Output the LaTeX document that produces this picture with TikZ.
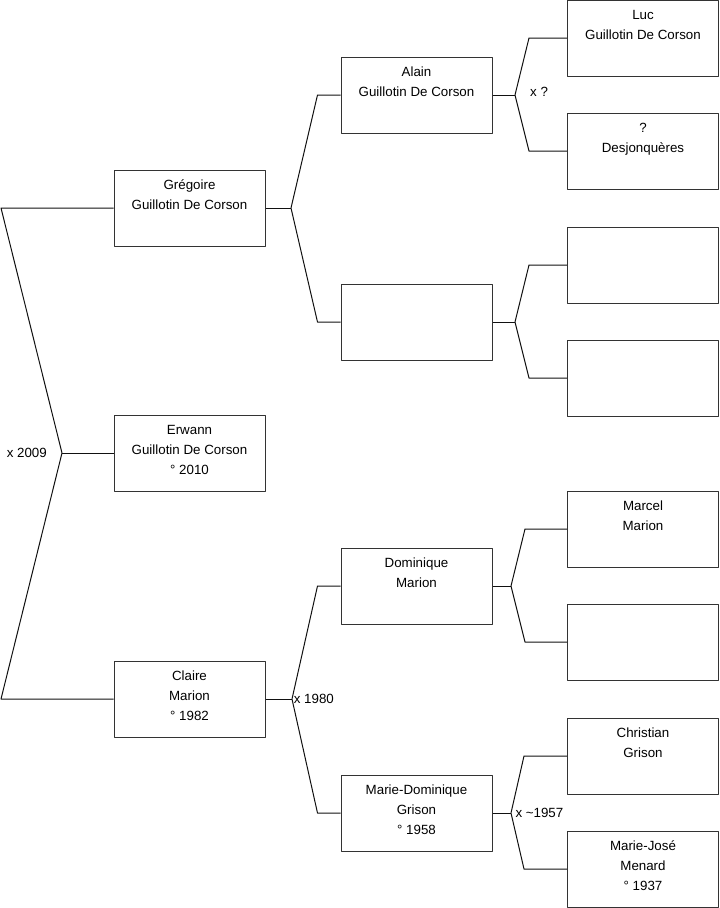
\documentclass[tikz,border=0pt]{standalone}
\usepackage{fontspec}
\setmainfont{Liberation Sans}
\usetikzlibrary{positioning, calc}
\definecolor{boxline}{HTML}{333333}
\definecolor{forkline}{HTML}{111111}

\begin{document}
\begin{tikzpicture}[
    x=0.75pt, y=-0.75pt,
    line width=0.75pt,
    line join=round,
    person/.style={draw=boxline, minimum width=113.25pt, minimum height=57pt,
        inner sep=0pt, align=center, font=\fontsize{10}{15}\selectfont,
        execute at begin node=\rule{0pt}{16.5pt}, execute at end node=\strut},
    union/.style={font=\fontsize{10}{12}\selectfont, inner sep=0pt}
]
    \useasboundingbox (0,0) rectangle (719,908);

    % Generation 1: the couple and their son
    \node[person] (greg) at (189.5,208) {Grégoire\\Guillotin De Corson\\{}};
    \node[person] (erwann) at (189.5,453) {Erwann\\Guillotin De Corson\\° 2010};
    \node[person] (claire) at (189.5,699) {Claire\\Marion\\° 1982};

    % Generation 2: parents
    \node[person] (alain) at (416.5,95) {Alain\\Guillotin De Corson\\{}};
    \node[person] (gmother) at (416.5,322) {};
    \node[person] (dominique) at (416.5,586) {Dominique\\Marion\\{}};
    \node[person] (mdom) at (416.5,813) {Marie-Dominique\\Grison\\° 1958};

    % Generation 3: grandparents
    \node[person] (luc) at (643,38) {Luc\\Guillotin De Corson\\{}};
    \node[person] (desj) at (643,151) {?\\Desjonquères\\{}};
    \node[person] (gmfather) at (643,265) {};
    \node[person] (gmmother) at (643,378) {};
    \node[person] (marcel) at (643,529) {Marcel\\Marion\\{}};
    \node[person] (dmother) at (643,642) {};
    \node[person] (christian) at (643,756) {Christian\\Grison\\{}};
    \node[person] (mjose) at (643,869) {Marie-José\\Menard\\° 1937};

    % Couple x 2009 with Erwann
    \coordinate (c0) at (62,453);
    \coordinate (c0t) at (1,208);
    \coordinate (c0b) at (1,699);
    \draw[forkline] (greg.west) -- (c0t) -- (c0) -- (c0b) -- (claire.west);
    \draw[forkline] (c0) -- (erwann.west);
    \node[union, left=11pt of c0] (u0) {x 2009};

    % Parents of Grégoire
    \coordinate (c1) at (291,208);
    \draw[forkline] (greg.east) -- (c1);
    \draw[forkline] (alain.west) -- ++(-23,0) -- (c1) -- ($(gmother.west)+(-23,0)$) -- (gmother.west);

    % Parents of Claire
    \coordinate (c2) at (292,699);
    \draw[forkline] (claire.east) -- (c2);
    \draw[forkline] (dominique.west) -- ++(-23,0) -- (c2) -- ($(mdom.west)+(-23,0)$) -- (mdom.west);
    \node[union, right=1pt of c2] (u2) {x 1980};

    % Parents of Alain
    \coordinate (c3) at (515,95);
    \draw[forkline] (alain.east) -- (c3);
    \draw[forkline] (luc.west) -- ++(-38,0) -- (c3) -- ($(desj.west)+(-38,0)$) -- (desj.west);
    \node[union, right=11pt of c3, yshift=2pt] (u3) {x ?};

    % Parents of the unknown mother
    \coordinate (c4) at (515,322);
    \draw[forkline] (gmother.east) -- (c4);
    \draw[forkline] (gmfather.west) -- ++(-38,0) -- (c4) -- ($(gmmother.west)+(-38,0)$) -- (gmmother.west);

    % Parents of Dominique
    \coordinate (c5) at (511,586);
    \draw[forkline] (dominique.east) -- (c5);
    \draw[forkline] (marcel.west) -- ++(-42,0) -- (c5) -- ($(dmother.west)+(-42,0)$) -- (dmother.west);

    % Parents of Marie-Dominique
    \coordinate (c6) at (511,813);
    \draw[forkline] (mdom.east) -- (c6);
    \draw[forkline] (christian.west) -- ++(-43,0) -- (c6) -- ($(mjose.west)+(-43,0)$) -- (mjose.west);
    \node[union, right=3pt of c6] (u6) {x \textasciitilde1957};

\end{tikzpicture}
\end{document}
